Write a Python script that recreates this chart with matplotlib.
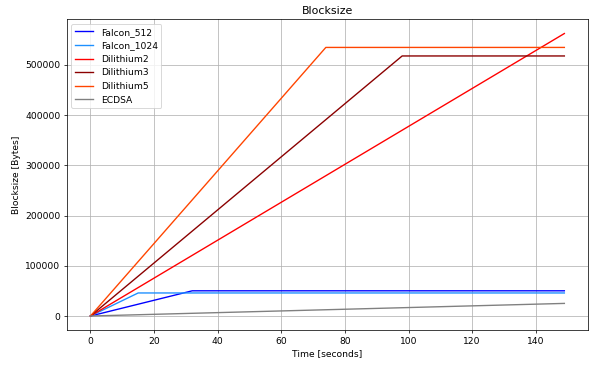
import matplotlib
matplotlib.use("Agg")
import matplotlib.pyplot as plt

# Knot points (time in seconds, cumulative block size in bytes)
falcon512_t = [0, 32, 149]
falcon512_y = [0, 50200, 50200]
falcon1024_t = [0, 15, 149]
falcon1024_y = [0, 45900, 45900]
dilithium2_t = [0, 149]
dilithium2_y = [0, 562700]
dilithium3_t = [0, 98, 149]
dilithium3_y = [0, 518000, 518000]
dilithium5_t = [0, 74, 149]
dilithium5_y = [0, 535000, 535000]
ecdsa_t = [0, 149]
ecdsa_y = [0, 25100]

fig, ax = plt.subplots(figsize=(591 / 66, 366 / 66), dpi=66)
ax.plot(falcon512_t, falcon512_y, color="blue", label="Falcon_512")
ax.plot(falcon1024_t, falcon1024_y, color="dodgerblue", label="Falcon_1024")
ax.plot(dilithium2_t, dilithium2_y, color="red", label="Dilithium2")
ax.plot(dilithium3_t, dilithium3_y, color="darkred", label="Dilithium3")
ax.plot(dilithium5_t, dilithium5_y, color="orangered", label="Dilithium5")
ax.plot(ecdsa_t, ecdsa_y, color="grey", label="ECDSA")

ax.set_title("Blocksize")
ax.set_xlabel("Time [seconds]")
ax.set_ylabel("Blocksize [Bytes]")
ax.grid(True)
ax.legend(loc="upper left")

fig.subplots_adjust(left=0.113, right=0.995, top=0.947, bottom=0.098)
fig.savefig("out.png", dpi=66)
